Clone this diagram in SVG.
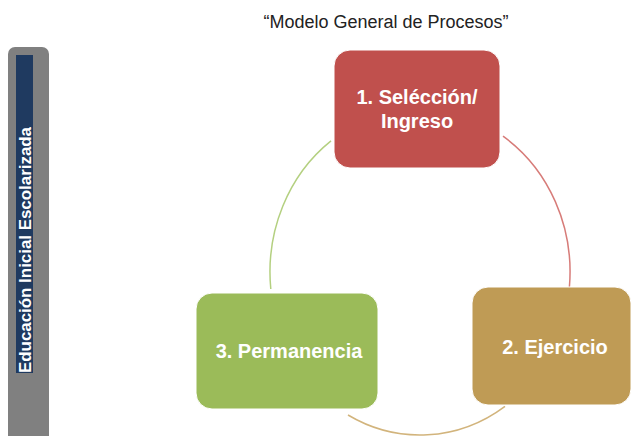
<svg xmlns="http://www.w3.org/2000/svg" width="631" height="436" viewBox="0 0 631 436">
<style>
.t{font-family:"Liberation Sans",Arial,sans-serif;fill:#fff;text-anchor:middle;font-weight:bold}
.arc{fill:none;stroke-width:1.5}
.node{stroke:#fff;stroke-width:1}
</style>
<rect width="631" height="436" fill="#fff"/>
<text x="386" y="28" font-family="Liberation Sans, Arial, sans-serif" font-size="18" fill="#222" text-anchor="middle">“Modelo General de Procesos”</text>
<g id="side">
<rect x="8" y="47" width="41" height="400" rx="7" fill="#808080"/>
<rect x="16" y="55" width="17" height="318" fill="#1F3A60"/>
<text class="t" font-size="16" transform="translate(31,250) rotate(-90)" textLength="246" lengthAdjust="spacingAndGlyphs">Educación Inicial Escolarizada</text>
</g>
<g id="connectors">
<path class="arc" stroke="#D77C79" d="M503,136.2 A150,163 0 0 1 569.4,287"/>
<path class="arc" stroke="#D2B47C" d="M505,406.3 A150,163 0 0 1 348,415"/>
<path class="arc" stroke="#B4D080" d="M270.8,289 A150,163 0 0 1 331,140.8"/>
</g>
<g id="n1">
<rect class="node" x="334" y="50" width="166" height="118" rx="16" fill="#C0504D"/>
<text class="t" font-size="20" x="417" y="104">1. Selécción/</text>
<text class="t" font-size="20" x="417" y="128">Ingreso</text>
</g>
<g id="n2">
<rect class="node" x="472" y="287" width="159" height="118" rx="16" fill="#BF9B55"/>
<text class="t" font-size="20" x="555" y="354">2. Ejercicio</text>
</g>
<g id="n3">
<rect class="node" x="196" y="293" width="182" height="116" rx="16" fill="#9BBB59"/>
<text class="t" font-size="20" x="289" y="358">3. Permanencia</text>
</g>
</svg>
